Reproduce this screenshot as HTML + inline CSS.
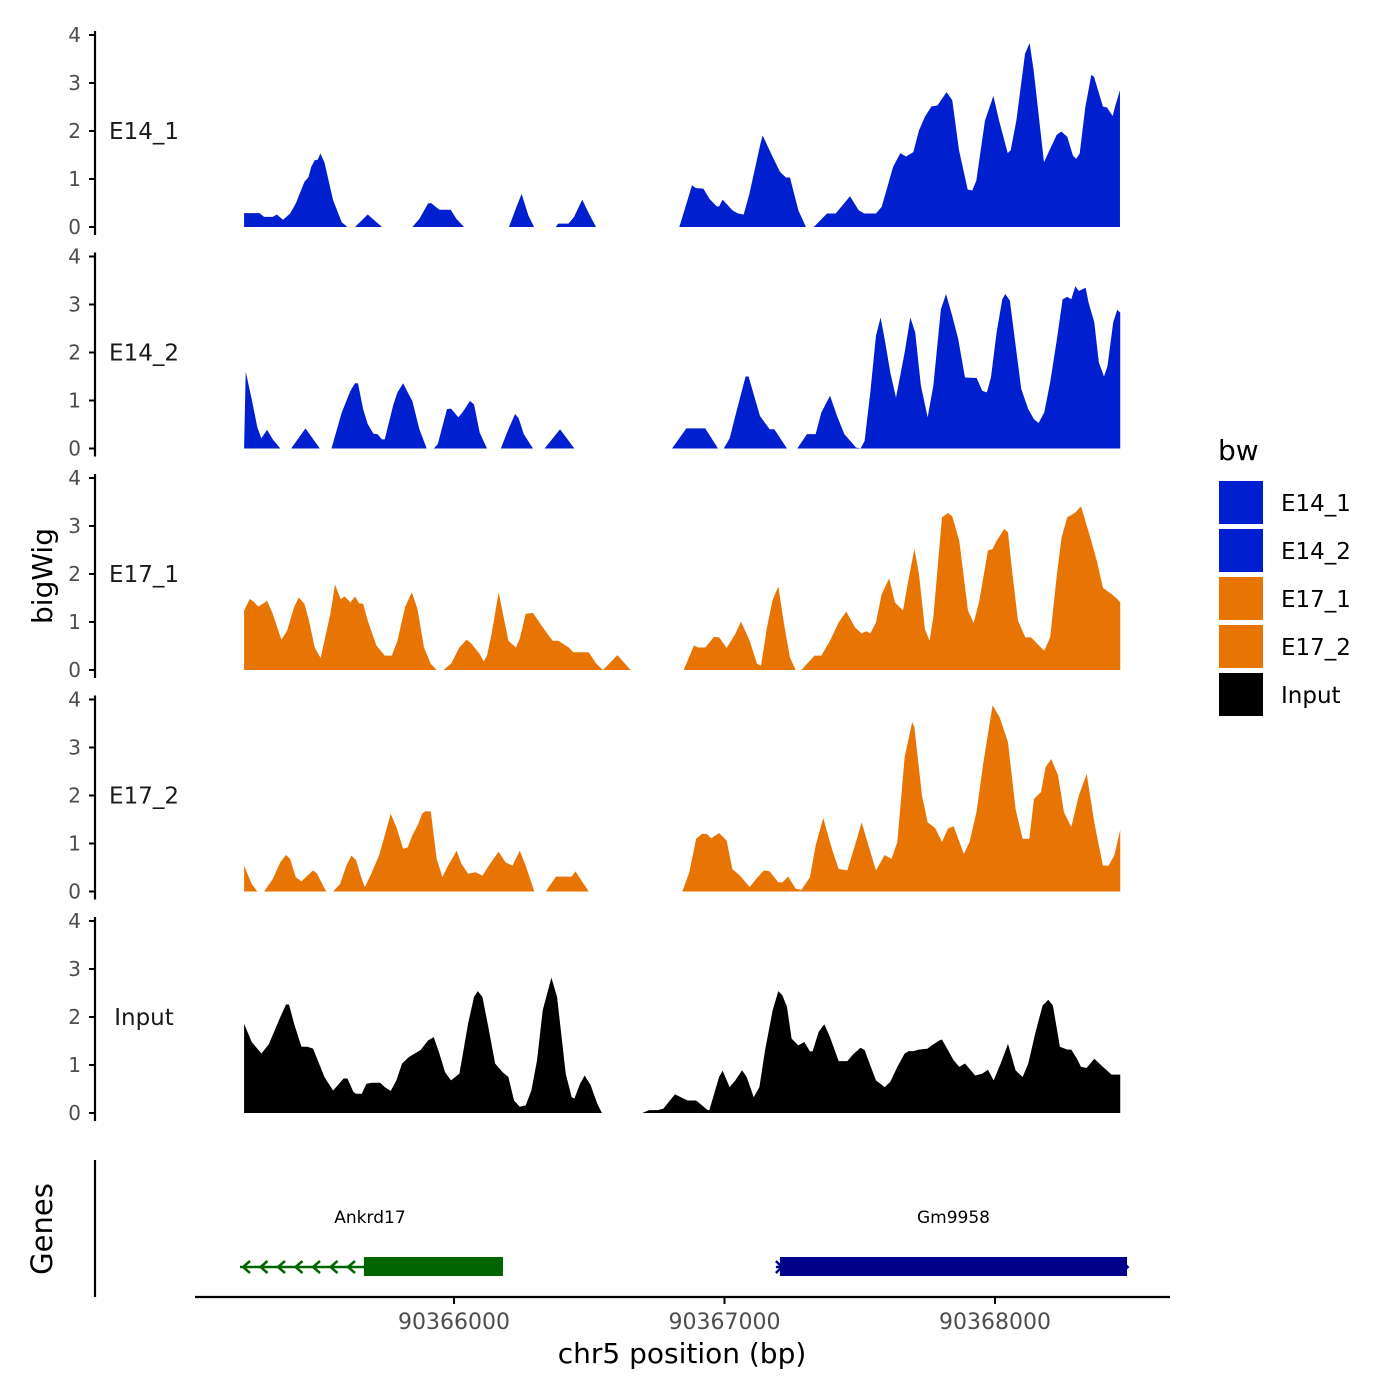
<!DOCTYPE html>
<html><head><meta charset="utf-8"><style>
html,body{margin:0;padding:0;background:#fff}
svg{display:block;font-family:"DejaVu Sans","Liberation Sans",sans-serif}
</style></head><body>
<svg id="chart" width="1400" height="1400" viewBox="0 0 1400 1400">
<g id="tracks"></g>
<g id="axes"></g>
<g id="genes"></g>
<g id="legend"></g>
</svg>
<script>
// ---- data ----
const trackNames = ["E14_1","E14_2","E17_1","E17_2","Input"];
const trackColors = ["#0020d0","#0020d0","#e87503","#e87503","#000000"];
const yTicks = [0,1,2,3,4];
const xTicks = [90366000,90367000,90368000];
const xTickLabels = ["90366000","90367000","90368000"];

const e14_1Pos = [90365224,90365224,90365281,90365298,90365330,90365345,90365368,90365394,90365415,90365447,90365462,90365472,90365485,90365496,90365506,90365521,90365553,90365585,90365606,null,
90365634,90365681,90365734,null,
90365846,90365872,90365904,90365915,90365946,90365988,90366009,90366037,null,
90366203,90366233,90366250,90366275,90366296,null,
90366376,90366385,90366423,90366444,90366474,90366498,90366525,null,
90366833,90366880,90366894,90366922,90366944,90366971,90366980,90366993,90367029,90367050,90367071,90367092,90367133,90367141,90367178,90367205,90367227,90367242,90367273,90367301,null,
90367330,90367379,90367411,90367464,90367496,90367517,90367560,90367581,90367602,90367623,90367650,90367671,90367698,90367719,90367740,90367765,90367787,90367821,90367842,90367867,90367899,90367916,90367931,90367963,90367994,90368015,90368047,90368058,90368079,90368111,90368128,90368143,90368181,90368196,90368228,90368245,90368267,90368288,90368300,90368313,90368334,90368356,90368366,90368399,90368414,90368435,90368445,90368462,90368462];
const e14_1Val = [0,0.29,0.29,0.21,0.21,0.26,0.15,0.28,0.49,0.94,1.04,1.25,1.39,1.40,1.53,1.35,0.56,0.10,0,null,
0,0.26,0,null,
0,0.17,0.49,0.5,0.36,0.36,0.17,0,null,
0,0.45,0.69,0.24,0,null,
0,0.07,0.07,0.21,0.57,0.29,0,null,
0,0.87,0.81,0.80,0.59,0.43,0.43,0.57,0.35,0.28,0.26,0.69,1.74,1.91,1.46,1.15,1.03,1.03,0.35,0,null,
0,0.28,0.28,0.64,0.35,0.28,0.28,0.42,0.83,1.25,1.54,1.47,1.56,2.01,2.29,2.51,2.53,2.81,2.64,1.6,0.78,0.76,0.97,2.22,2.73,2.22,1.54,1.6,2.22,3.61,3.83,3.26,1.35,1.53,1.92,1.99,1.88,1.49,1.42,1.53,2.50,3.17,3.13,2.51,2.49,2.31,2.53,2.85,0];

const e14_2Pos = [90365224,90365230,90365252,90365273,90365288,90365309,90365330,90365358,null,
90365398,90365451,90365504,null,
90365547,90365585,90365617,90365634,90365645,90365664,90365681,90365702,90365717,90365734,90365744,90365776,90365791,90365812,90365829,90365846,90365872,90365893,90365899,null,
90365925,90365940,90365974,90365989,90366016,90366031,90366059,90366074,90366095,90366122,null,
90366173,90366201,90366226,90366239,90366258,90366292,null,
90366335,90366392,90366445,null,
90366806,90366859,90366929,90366976,null,
90366997,90367019,90367040,90367078,90367089,90367131,90367167,90367184,90367231,null,
90367269,90367305,90367337,90367358,90367390,90367416,90367443,90367486,90367503,90367518,90367539,90367560,90367577,90367592,90367613,90367634,90367666,90367687,90367705,90367726,90367751,90367772,90367800,90367819,90367842,90367864,90367889,90367932,90367953,90367970,90367985,90368006,90368027,90368038,90368055,90368070,90368097,90368123,90368144,90368161,90368182,90368204,90368229,90368250,90368267,90368282,90368297,90368310,90368335,90368346,90368367,90368384,90368403,90368416,90368437,90368452,90368463,90368463];
const e14_2Val = [0,1.60,1.03,0.44,0.21,0.39,0.19,0,null,
0,0.42,0,null,
0,0.75,1.20,1.36,1.36,0.82,0.51,0.31,0.30,0.19,0.19,0.92,1.17,1.36,1.17,0.99,0.40,0.09,0,null,
0,0.09,0.82,0.83,0.65,0.75,0.99,0.92,0.33,0,null,
0,0.40,0.72,0.63,0.30,0,null,
0,0.40,0,null,
0,0.42,0.42,0,null,
0,0.21,0.68,1.5,1.5,0.68,0.40,0.40,0,null,
0,0.30,0.30,0.75,1.10,0.68,0.30,0.02,0,0.16,1.17,2.35,2.73,2.28,1.58,1.06,2.0,2.73,2.42,1.31,0.65,1.31,2.90,3.22,2.76,2.28,1.48,1.47,1.20,1.17,1.48,2.42,3.11,3.22,3.08,2.42,1.24,0.82,0.61,0.53,0.75,1.38,2.28,3.11,3.16,3.11,3.38,3.28,3.35,3.04,2.63,1.79,1.5,1.72,2.63,2.89,2.83,0];

const e17_1Pos = [90365224,90365224,90365245,90365260,90365277,90365309,90365330,90365362,90365383,90365409,90365426,90365447,90365464,90365485,90365507,90365521,90365543,90365560,90365581,90365596,90365617,90365634,90365649,90365664,90365681,90365713,90365744,90365770,90365791,90365819,90365844,90365865,90365889,90365914,90365936,null,
90365961,90365989,90366020,90366046,90366063,90366095,90366110,90366122,90366139,90366165,90366201,90366229,90366243,90366265,90366292,90366328,90366350,90366365,90366386,90366424,90366441,90366498,90366526,90366551,null,
90366551,90366604,90366653,null,
90366849,90366887,90366902,90366929,90366961,90366980,90367008,90367040,90367061,90367093,90367120,90367135,90367157,90367178,90367199,90367220,90367242,90367263,null,
90367284,90367333,90367358,90367390,90367422,90367450,90367482,90367507,90367524,90367539,90367560,90367581,90367609,90367630,90367660,90367677,90367702,90367719,90367741,90367758,90367772,90367804,90367826,90367842,90367868,90367900,90367921,90367942,90367974,90367991,90368006,90368034,90368048,90368063,90368085,90368112,90368133,90368182,90368204,90368229,90368246,90368267,90368282,90368297,90368318,90368356,90368378,90368399,90368431,90368452,90368463,90368463];
const e17_1Val = [0,1.24,1.48,1.42,1.32,1.44,1.17,0.63,0.82,1.31,1.51,1.38,1.03,0.47,0.25,0.61,1.17,1.78,1.48,1.53,1.41,1.53,1.39,1.38,1.03,0.51,0.30,0.30,0.61,1.31,1.62,1.27,0.47,0.13,0,null,
0,0.13,0.47,0.63,0.56,0.33,0.18,0.30,0.75,1.62,0.61,0.47,0.65,1.17,1.19,0.89,0.72,0.61,0.61,0.47,0.37,0.37,0.13,0,null,
0,0.31,0,null,
0,0.51,0.47,0.47,0.69,0.68,0.46,0.75,1.01,0.61,0.13,0.09,0.89,1.46,1.74,0.96,0.26,0,null,
0,0.30,0.30,0.61,0.99,1.22,0.89,0.76,0.81,0.76,0.99,1.58,1.91,1.41,1.24,1.79,2.52,2.0,0.85,0.61,1.10,3.18,3.27,3.20,2.69,1.24,0.98,1.44,2.49,2.52,2.69,2.94,2.87,2.07,1.03,0.68,0.68,0.40,0.68,2.0,2.76,3.18,3.23,3.28,3.41,2.69,2.24,1.71,1.58,1.48,1.41,0];

const e17_2Pos = [90365224,90365224,90365252,90365273,null,
90365298,90365330,90365358,90365379,90365394,90365415,90365436,90365458,90365479,90365494,90365515,90365528,null,
90365553,90365579,90365602,90365621,90365638,90365655,90365670,90365691,90365723,90365744,90365766,90365787,90365812,90365829,90365846,90365868,90365882,90365893,90365914,90365936,90365957,90365978,90366010,90366027,90366052,90366080,90366105,90366137,90366165,90366190,90366216,90366243,90366265,90366297,null,
90366339,90366377,90366435,90366449,90366498,null,
90366844,90366870,90366895,90366917,90366934,90366951,90366980,90367008,90367029,90367057,90367093,90367120,90367146,90367167,90367199,90367214,90367235,90367263,90367284,90367316,90367337,90367365,90367397,90367422,90367454,90367486,90367507,90367532,90367560,90367592,90367617,90367639,90367666,90367694,90367702,90367730,90367751,90367779,90367804,90367826,90367847,90367885,90367906,90367932,90367957,90367991,90368017,90368048,90368076,90368102,90368127,90368144,90368170,90368187,90368208,90368233,90368255,90368282,90368310,90368339,90368367,90368399,90368420,90368441,90368463,90368463];
const e17_2Val = [0,0.54,0.16,0,null,
0,0.26,0.61,0.76,0.68,0.30,0.21,0.33,0.44,0.37,0.13,0,null,
0,0.16,0.54,0.75,0.65,0.33,0.09,0.33,0.75,1.17,1.62,1.34,0.89,0.92,1.17,1.41,1.62,1.67,1.67,0.68,0.30,0.54,0.85,0.58,0.37,0.40,0.33,0.61,0.83,0.61,0.54,0.85,0.54,0,null,
0,0.31,0.31,0.42,0,null,
0,0.40,1.10,1.20,1.20,1.11,1.22,1.06,0.47,0.33,0.09,0.28,0.44,0.42,0.19,0.19,0.31,0.06,0.03,0.30,0.96,1.53,0.89,0.47,0.44,1.03,1.44,0.96,0.44,0.76,0.68,1.03,2.80,3.53,3.42,2.0,1.44,1.32,1.03,1.31,1.36,0.78,1.03,1.67,2.69,3.88,3.63,3.11,1.72,1.10,1.10,1.93,2.07,2.59,2.76,2.42,1.65,1.34,2.0,2.45,1.44,0.54,0.54,0.75,1.29,0];

const inputPos = [90365224,90365224,90365252,90365288,90365315,90365358,90365379,90365390,90365409,90365436,90365458,90365479,90365521,90365553,90365592,90365606,90365628,90365638,90365659,90365676,90365698,90365727,90365744,90365766,90365787,90365808,90365834,90365855,90365876,90365904,90365925,90365946,90365967,90365989,90366020,90366052,90366074,90366088,90366105,90366127,90366152,90366180,90366201,90366222,90366243,90366265,90366286,90366307,90366328,90366360,90366381,90366413,90366435,90366445,90366466,90366483,90366505,90366530,90366547,null,
90366696,90366721,90366753,90366774,90366817,90366849,90366864,90366895,90366923,90366938,90366944,90366980,90366993,90367019,90367040,90367065,90367082,90367108,90367129,90367150,90367178,90367199,90367214,90367231,90367248,90367273,90367295,90367316,90367326,90367348,90367369,90367390,90367422,90367454,90367475,90367503,90367518,90367539,90367560,90367592,90367613,90367639,90367666,90367681,90367698,90367719,90367751,90367766,90367794,90367804,90367826,90367847,90367868,90367889,90367906,90367927,90367953,90367974,90367995,90368021,90368048,90368076,90368102,90368123,90368150,90368176,90368197,90368214,90368240,90368267,90368282,90368303,90368318,90368339,90368367,90368399,90368431,90368463,90368463];
const inputVal = [0,1.86,1.48,1.24,1.43,2.0,2.26,2.26,1.86,1.38,1.38,1.34,0.75,0.47,0.72,0.72,0.44,0.40,0.40,0.61,0.63,0.63,0.54,0.46,0.68,1.03,1.17,1.24,1.31,1.51,1.58,1.24,0.85,0.68,0.82,1.86,2.42,2.54,2.42,1.79,1.03,0.85,0.75,0.26,0.13,0.16,0.47,1.10,2.14,2.82,2.42,0.82,0.33,0.30,0.61,0.78,0.58,0.19,0,null,
0,0.06,0.06,0.09,0.39,0.30,0.26,0.26,0.13,0.06,0.06,0.75,0.88,0.54,0.68,0.89,0.75,0.33,0.54,1.31,2.14,2.54,2.45,2.21,1.55,1.41,1.48,1.28,1.29,1.69,1.85,1.58,1.08,1.08,1.22,1.36,1.31,0.99,0.68,0.54,0.65,0.96,1.24,1.29,1.29,1.32,1.34,1.41,1.51,1.53,1.31,1.10,0.96,1.03,0.92,0.78,0.82,0.90,0.68,1.03,1.44,0.89,0.75,1.03,1.69,2.24,2.36,2.24,1.38,1.32,1.32,1.13,0.96,0.94,1.13,0.96,0.80,0.80,0];

const geneNames = ["Ankrd17","Gm9958"];
const geneStart = [90365209,90367190];
const geneThickStart = [90365667,90367205];
const geneEnd = [90366181,90368488];
const geneStrand = ["-","+"];
const geneColors = ["#006400","#00008b"];

// ---- scales ----
const NS = "http://www.w3.org/2000/svg";
const X0 = 454, BP0 = 90366000, PXPERBP = 0.2705;
function xs(bp){ return X0 + (bp - BP0) * PXPERBP; }
const baselines = [227,448.5,670,891.5,1113];
const UNIT = 48;
function ys(track, v){ return baselines[track] - v * UNIT; }
function mk(tag, attrs, parent){ const e = document.createElementNS(NS, tag); for (const k in attrs) e.setAttribute(k, attrs[k]); parent.appendChild(e); return e; }

const posArrays = [e14_1Pos,e14_2Pos,e17_1Pos,e17_2Pos,inputPos];
const valArrays = [e14_1Val,e14_2Val,e17_1Val,e17_2Val,inputVal];
const tracksG = document.getElementById('tracks');
const axesG = document.getElementById('axes');

for (let t = 0; t < 5; t++) {
  const pos = posArrays[t], val = valArrays[t];
  let seg = [];
  let segIdx = 0;
  const flush = () => {
    if (seg.length > 1) {
      const pts = seg.map(p => xs(p[0]).toFixed(2) + "," + ys(t, p[1]).toFixed(2));
      pts.push(xs(seg[seg.length-1][0]).toFixed(2) + "," + baselines[t]);
      pts.unshift(xs(seg[0][0]).toFixed(2) + "," + baselines[t]);
      const poly = mk('polygon', {points: pts.join(' '), fill: trackColors[t]}, tracksG);
      
      
      segIdx++;
    }
    seg = [];
  };
  for (let i = 0; i < pos.length; i++) {
    if (pos[i] === null || val[i] === null) { flush(); continue; }
    seg.push([pos[i], val[i]]);
  }
  flush();

  const ax = mk('line', {x1:95, x2:95, y1: ys(t,4)-4, y2: baselines[t]+8, stroke:'#000', 'stroke-width':2.2}, axesG);
  
  
  yTicks.forEach(v => {
    const tk = mk('line', {x1:89, x2:95, y1: ys(t,v), y2: ys(t,v), stroke:'#000', 'stroke-width':2}, axesG);
    
    
    const tl = mk('text', {x:81, y: ys(t,v)+7, 'text-anchor':'end', 'font-size':20, fill:'#4d4d4d'}, axesG);
    tl.textContent = String(v);
    
    
  });
  const lbl = mk('text', {x:144, y: ys(t,2)+8, 'text-anchor':'middle', 'font-size':23, fill:'#1a1a1a'}, axesG);
  lbl.textContent = trackNames[t];
  
  
}

const yt = mk('text', {x:0, y:0, transform:'translate(52,576) rotate(-90)', 'text-anchor':'middle', 'font-size':28, fill:'#000'}, axesG);
yt.textContent = 'bigWig';



const gG = document.getElementById('genes');
const gt = mk('text', {x:0, y:0, transform:'translate(52,1229) rotate(-90)', 'text-anchor':'middle', 'font-size':29, fill:'#000'}, gG);
gt.textContent = 'Genes';


const gl = mk('line', {x1:95, x2:95, y1:1160, y2:1297, stroke:'#000', 'stroke-width':2.2}, gG);


const xl = mk('line', {x1:195, x2:1170, y1:1297, y2:1297, stroke:'#000', 'stroke-width':2.2}, gG);


xTicks.forEach((b, i) => {
  const tk = mk('line', {x1: xs(b), x2: xs(b), y1:1297, y2:1304, stroke:'#000', 'stroke-width':2}, gG);
  
  
  const tl = mk('text', {x: xs(b), y:1329, 'text-anchor':'middle', 'font-size':22, fill:'#4d4d4d'}, gG);
  tl.textContent = xTickLabels[i];
  
  
});
const xt = mk('text', {x:682, y:1363, 'text-anchor':'middle', 'font-size':28, fill:'#000'}, gG);
xt.textContent = 'chr5 position (bp)';



geneNames.forEach((n, i) => {
  const c = geneColors[i];
  const x1 = xs(geneStart[i]), xt0 = xs(geneThickStart[i]), x2 = xs(geneEnd[i]);
  const g = mk('g', {}, gG);
  
  
  mk('line', {x1:x1, x2:x2, y1:1267, y2:1267, stroke:c, 'stroke-width':2.5}, g);
  if (geneStrand[i] === '-') {
    for (let ax = x1 + 3; ax < xt0 - 4; ax += 17.5) {
      mk('polyline', {points:`${ax+7},1261 ${ax},1267 ${ax+7},1273`, fill:'none', stroke:c, 'stroke-width':2.5}, g);
    }
    mk('rect', {x:xt0, y:1257, width:x2 - xt0, height:19, fill:c}, g);
  } else {
    mk('polyline', {points:`${x1},1261 ${x1+6},1267 ${x1},1273`, fill:'none', stroke:c, 'stroke-width':2.5}, g);
    mk('rect', {x:xt0, y:1257, width:x2 - xt0, height:19, fill:c}, g);
    mk('polyline', {points:`${x2-4},1262 ${x2+1},1267 ${x2-4},1272`, fill:'none', stroke:c, 'stroke-width':2}, g);
  }
  const lab = mk('text', {x: (i === 0 ? (xt0 + x1) / 2 + 68 : (xt0 + x2) / 2), y:1223, 'text-anchor':'middle', 'font-size':17, fill:'#000'}, gG);
  lab.textContent = n;
  
  
});

const lg = document.getElementById('legend');
const lt = mk('text', {x:1218, y:460, 'font-size':28, fill:'#000'}, lg);
lt.textContent = 'bw';


trackNames.forEach((n, i) => {
  const y = 481 + i * 48;
  const e = mk('g', {}, lg);
  
  
  mk('rect', {x:1219, y:y, width:44, height:43, fill:trackColors[i]}, e);
  const tx = mk('text', {x:1281, y:y + 30, 'font-size':23, fill:'#000'}, e);
  tx.textContent = n;
});
</script>
</body></html>
